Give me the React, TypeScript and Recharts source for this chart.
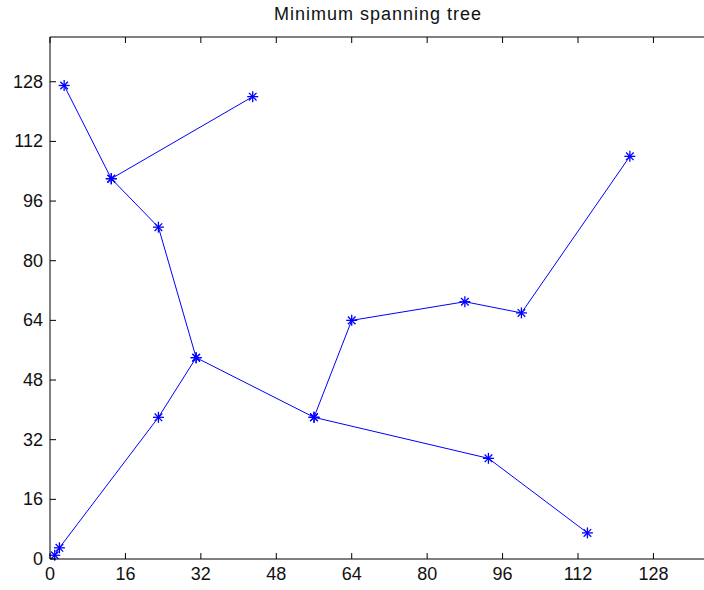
import { Scatter, ScatterChart, XAxis, YAxis } from "recharts";

// MST drawn as four polylines through the tree nodes.
const trunkX = [3, 13, 23, 31, 23, 2, 1];
const trunkY = [127, 102, 89, 54, 38, 3, 1];
const branchAX = [13, 43];
const branchAY = [102, 124];
const branchBX = [31, 56, 64, 88, 100, 123];
const branchBY = [54, 38, 64, 69, 66, 108];
const branchCX = [56, 93, 114];
const branchCY = [38, 27, 7];

const tickValues = [0, 16, 32, 48, 64, 80, 96, 112, 128];
const axisDomain = [0, 140];

const BLUE = "#0000ff";
const FONT = "'Liberation Sans', Arial, sans-serif";

const toPoints = (xs: number[], ys: number[]) => xs.map((x, i) => ({ x, y: ys[i] }));

const paths = [
  toPoints(trunkX, trunkY),
  toPoints(branchAX, branchAY),
  toPoints(branchBX, branchBY),
  toPoints(branchCX, branchCY),
];

// matlab style '*' marker
const Star = (props: any) => {
  const { cx, cy } = props;
  if (cx == null || cy == null) return null;
  const r = 5.5;
  const d = 3.8;
  return (
    <g stroke={BLUE} strokeWidth={1.3}>
      <line x1={cx - r} y1={cy} x2={cx + r} y2={cy} />
      <line x1={cx} y1={cy - r} x2={cx} y2={cy + r} />
      <line x1={cx - d} y1={cy - d} x2={cx + d} y2={cy + d} />
      <line x1={cx - d} y1={cy + d} x2={cx + d} y2={cy - d} />
    </g>
  );
};

const Nothing = () => null;

const BottomTick = ({ x, y, payload }: any) => (
  <g>
    <line x1={x} y1={y} x2={x} y2={y - 6} stroke="#000" />
    <text x={x} y={y + 21} textAnchor="middle" fontSize={18} fontFamily={FONT} fill="#111">
      {payload.value}
    </text>
  </g>
);

const TopTick = ({ x, y }: any) => <line x1={x} y1={y} x2={x} y2={y + 6} stroke="#000" />;

const LeftTick = ({ x, y, payload }: any) => (
  <g>
    <line x1={x} y1={y} x2={x + 6} y2={y} stroke="#000" />
    <text x={x - 7} y={y + 6} textAnchor="end" fontSize={18} fontFamily={FONT} fill="#111">
      {payload.value}
    </text>
  </g>
);

const RightTick = ({ x, y }: any) => <line x1={x} y1={y} x2={x - 6} y2={y} stroke="#000" />;

export default function App() {
  return (
    <div
      style={{
        position: "absolute",
        left: 0,
        top: 0,
        width: 704,
        height: 590,
        overflow: "hidden",
        background: "#fff",
      }}
    >
      <div
        style={{
          position: "absolute",
          left: 0,
          top: 4,
          width: 756,
          textAlign: "center",
          fontFamily: FONT,
          fontSize: 18,
          letterSpacing: 1,
          color: "#111",
        }}
      >
        Minimum spanning tree
      </div>
      <ScatterChart width={720} height={590} margin={{ top: 36, right: 9, bottom: 0, left: 0 }}>
        <XAxis
          dataKey="x"
          type="number"
          domain={axisDomain}
          ticks={tickValues}
          height={31}
          tickSize={0}
          tickMargin={0}
          tickLine={false}
          axisLine={{ stroke: "#000" }}
          tick={<BottomTick />}
          interval={0}
        />
        <XAxis
          xAxisId="top"
          orientation="top"
          dataKey="x"
          type="number"
          domain={axisDomain}
          ticks={tickValues}
          height={1}
          tickSize={0}
          tickMargin={0}
          tickLine={false}
          axisLine={{ stroke: "#000" }}
          tick={<TopTick />}
          interval={0}
        />
        <YAxis
          dataKey="y"
          type="number"
          domain={axisDomain}
          ticks={tickValues}
          width={50}
          tickSize={0}
          tickMargin={0}
          tickLine={false}
          axisLine={{ stroke: "#000" }}
          tick={<LeftTick />}
          interval={0}
        />
        <YAxis
          yAxisId="right"
          orientation="right"
          dataKey="y"
          type="number"
          domain={axisDomain}
          ticks={tickValues}
          width={1}
          tickSize={0}
          tickMargin={0}
          tickLine={false}
          axisLine={{ stroke: "#000" }}
          tick={<RightTick />}
          interval={0}
        />
        {/* invisible copy so the top/right frame axes have something bound to them */}
        <Scatter
          data={paths[0]}
          xAxisId="top"
          yAxisId="right"
          shape={<Nothing />}
          isAnimationActive={false}
        />
        {paths.map((pts, i) => (
          <Scatter
            key={i}
            data={pts}
            line={{ stroke: BLUE, strokeWidth: 1 }}
            lineType="joint"
            shape={<Star />}
            isAnimationActive={false}
          />
        ))}
      </ScatterChart>
    </div>
  );
}
